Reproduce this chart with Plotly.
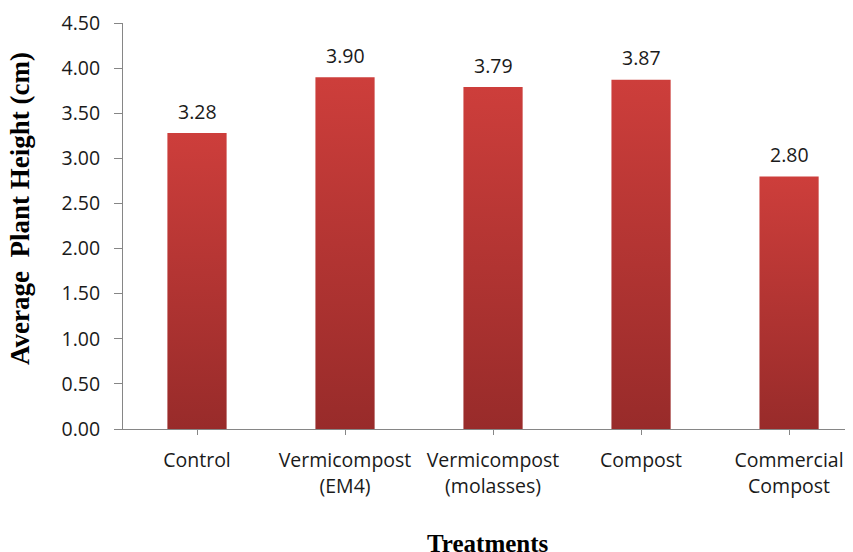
import plotly.graph_objects as go

categories = ["Control", "Vermicompost<br>(EM4)", "Vermicompost<br>(molasses)", "Compost", "Commercial<br>Compost"]
heights = [3.28, 3.90, 3.79, 3.87, 2.80]
value_labels = ["3.28", "3.90", "3.79", "3.87", "2.80"]
y_ticks = [0, 0.5, 1.0, 1.5, 2.0, 2.5, 3.0, 3.5, 4.0, 4.5]
y_tick_labels = ["0.00", "0.50", "1.00", "1.50", "2.00", "2.50", "3.00", "3.50", "4.00", "4.50"]

BAR_HALF = 0.2
TOP_COLOR = "#CD3E3B"
BOTTOM_COLOR = "#982B2A"
TICK_FONT = dict(family="Open Sans, DejaVu Sans, sans-serif", size=19.5, color="#1a1a1a")
TITLE_FONT_FAMILY = "Liberation Serif, Times New Roman, serif"

fig = go.Figure()
for i, v in enumerate(heights):
    xs = [i - BAR_HALF, i - BAR_HALF, i + BAR_HALF, i + BAR_HALF, i - BAR_HALF]
    ys = [0, v, v, 0, 0]
    fig.add_trace(go.Scatter(
        x=xs, y=ys, mode="lines", fill="toself",
        line=dict(width=0, color=BOTTOM_COLOR),
        fillgradient=dict(type="vertical",
                          colorscale=[[0, BOTTOM_COLOR], [1, TOP_COLOR]],
                          start=0, stop=v),
        hoverinfo="skip", showlegend=False,
    ))

for i, (v, lab) in enumerate(zip(heights, value_labels)):
    fig.add_annotation(x=i, y=v, text=lab, showarrow=False,
                       yanchor="middle", yshift=22, font=TICK_FONT)

fig.add_annotation(text="<b>Average  Plant Height (cm)</b>", textangle=-90,
                   xref="paper", yref="paper", x=-0.141, y=0.542,
                   xanchor="center", yanchor="middle", showarrow=False,
                   font=dict(family=TITLE_FONT_FAMILY, size=27, color="black"))
fig.add_annotation(text="<b>Treatments</b>",
                   xref="paper", yref="paper", x=0.5, y=-0.281,
                   xanchor="center", yanchor="middle", showarrow=False,
                   font=dict(family=TITLE_FONT_FAMILY, size=25, color="black"))

fig.update_layout(
    width=853, height=552,
    margin=dict(l=115, r=8, t=15, b=131, autoexpand=False),
    paper_bgcolor="white", plot_bgcolor="white",
    showlegend=False,
    xaxis=dict(
        range=[-0.5, 4.432], automargin=False,
        tickmode="array", tickvals=list(range(len(categories))), ticktext=categories,
        tickfont=TICK_FONT, ticklabelstandoff=9,
        showgrid=False, zeroline=False,
        showline=True, linecolor="#868686", linewidth=1,
        ticks="outside", ticklen=5, tickcolor="#868686",
    ),
    yaxis=dict(
        range=[0, 4.5], automargin=False,
        tickmode="array", tickvals=y_ticks, ticktext=y_tick_labels,
        tickfont=TICK_FONT, ticklabelstandoff=10,
        showgrid=False, zeroline=False,
        showline=True, linecolor="#868686", linewidth=1,
        ticks="outside", ticklen=8, tickcolor="#868686",
    ),
)

fig.write_html("out.html")
